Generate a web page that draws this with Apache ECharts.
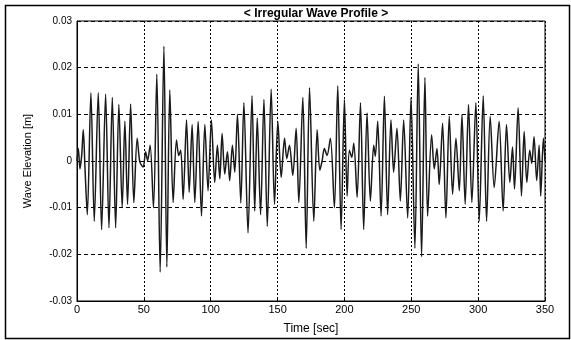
<!DOCTYPE html>
<html>
<head>
<meta charset="utf-8">
<script src="https://cdn.jsdelivr.net/npm/echarts@6/dist/echarts.min.js"></script>
<style>
html,body{margin:0;padding:0;background:#fff;}
#chart{width:571px;height:340px;}
</style>
</head>
<body>
<div id="chart"></div>
<script>
// Time [sec] of the readable wave extrema
const times = [
0,1.0,2.2,3.5,4.7,6.0,7.7,10.4,12.9,15.9,18.4,21.4,23.9,26.4,28.9,31.3,33.8,35.8,37.8,40.1,
42.5,45.0,47.0,49.5,51.3,52.8,54.7,57.2,59.7,62.2,65.0,67.2,69.4,71.9,74.4,76.1,77.6,79.4,81.9,83.9,
86.1,88.1,90.6,93.1,95.6,98.0,100.5,103.0,105.0,106.8,108.5,110.5,112.5,114.2,116.2,118.0,120.0,122.5,124.8,127.9,
130.9,132.9,134.8,137.3,139.8,142.3,145.2,147.7,150.2,152.7,155.2,156.9,158.9,161.4,163.9,165.9,168.9,171.4,173.9,177.1,
179.6,181.6,183.3,185.0,187.0,189.5,192.5,195.0,197.5,200.0,202.0,203.7,205.5,207.0,209.5,212.0,214.4,216.9,219.4,221.9,
223.1,224.9,227.4,229.9,232.3,234.8,236.8,239.3,241.8,244.3,247.3,249.8,252.7,255.2,257.7,260.2,262.2,265.2,267.2,269.2,
270.9,273.4,275.9,278.4,280.9,283.4,285.9,287.9,290.3,292.8,295.3,298.3,300.8,303.8,306.3,309.0,312.0,315.7,318.7,321.2,
323.7,325.7,327.2,329.9,332.4,334.4,336.4,338.6,340.1,341.8,343.8,345.6,346.8,348.8,350
];
// Wave elevation [m]
const elevation = [
0,0.0027,-0.0017,0.0012,0.0067,-0.0017,-0.0115,0.0146,-0.0129,0.0146,-0.0147,0.0143,-0.0143,0.0136,-0.0143,0.0121,-0.0100,0.0085,-0.0093,0.0122,
-0.0089,0.0049,-0.0002,-0.0013,0.0020,0.0001,0.0034,-0.0100,0.0186,-0.0238,0.0246,-0.0227,0.0152,-0.0089,0.0045,0.0012,0.0023,-0.0082,0.0088,-0.0067,
0.0078,-0.0089,0.0085,-0.0118,0.0078,-0.0064,0.0088,-0.0046,0.0034,-0.0038,0.0059,-0.0028,0.0020,-0.0042,0.0034,-0.0024,0.0100,-0.0090,0.0125,-0.0154,
0.0140,-0.0107,0.0092,-0.0115,0.0132,-0.0140,0.0154,-0.0093,0.0085,-0.0035,0.0049,0.0005,0.0034,-0.0031,0.0070,-0.0089,0.0136,-0.0187,0.0157,-0.0129,
0.0067,-0.0020,0.0000,0.0027,0.0012,0.0049,-0.0100,0.0161,-0.0147,0.0132,-0.0075,0.0023,0.0008,0.0038,-0.0078,0.0125,-0.0147,0.0103,-0.0086,0.0034,
0.0010,0.0085,-0.0118,0.0139,-0.0115,0.0088,-0.0024,0.0070,-0.0086,0.0088,-0.0122,0.0136,-0.0187,0.0208,-0.0205,0.0179,-0.0118,0.0056,-0.0017,0.0027,
-0.0050,0.0081,-0.0122,0.0096,-0.0071,0.0049,-0.0064,0.0099,-0.0093,0.0121,-0.0089,0.0125,-0.0129,0.0140,-0.0129,0.0096,-0.0057,0.0085,-0.0107,0.0078,
-0.0046,0.0030,-0.0060,0.0114,-0.0075,0.0063,-0.0046,0.0023,-0.0005,0.0052,-0.0042,0.0034,-0.0075,0.0049,0
];
const xTicks = [0,50,100,150,200,250,300,350];
const yTicks = [-0.03,-0.02,-0.01,0,0.01,0.02,0.03];

const seriesData = times.map((t,i)=>[t, elevation[i]]);
const font = '"Liberation Sans", Arial, sans-serif';

const chart = echarts.init(document.getElementById('chart'), null, {renderer:'canvas'});
chart.setOption({
  animation:false,
  backgroundColor:'#fff',
  title:{
    text:'< Irregular Wave Profile >',
    left:311, top:3, textAlign:'center',
    textStyle:{fontFamily:font, fontSize:12, fontWeight:'bold', color:'#000'}
  },
  graphic:[{
    type:'rect', left:3, top:3, shape:{x:0,y:0,width:564,height:333},
    style:{fill:'none', stroke:'#000', lineWidth:1.5}, silent:true
  }],
  grid:{left:77, right:26, top:21, bottom:37, show:true, borderColor:'#000', borderWidth:1},
  xAxis:{
    type:'value', min:xTicks[0], max:xTicks[xTicks.length-1], interval:50,
    name:'Time [sec]', nameLocation:'middle', nameGap:22,
    nameTextStyle:{fontFamily:font, fontSize:12, color:'#000'},
    axisLine:{show:true, onZero:false, lineStyle:{color:'#000', width:1}},
    axisTick:{show:true, inside:true, length:3, lineStyle:{color:'#000'}},
    axisLabel:{fontFamily:font, fontSize:11, color:'#000', margin:3},
    splitLine:{show:true, lineStyle:{color:'#000', type:[2,2], width:1}}
  },
  yAxis:{
    type:'value', min:yTicks[0], max:yTicks[yTicks.length-1], interval:0.01,
    name:'Wave Elevation [m]', nameLocation:'middle', nameGap:44, nameRotate:90,
    nameTextStyle:{fontFamily:font, fontSize:11, color:'#000'},
    axisLine:{show:true, onZero:false, lineStyle:{color:'#000', width:1}},
    axisTick:{show:true, inside:true, length:3, lineStyle:{color:'#000'}},
    axisLabel:{fontFamily:font, fontSize:10, color:'#000', margin:5,
      formatter:v=>{const r=Math.round(v*100)/100; return r===0?'0':r.toFixed(2);}},
    splitLine:{show:true, lineStyle:{color:'#000', type:[4,3], width:1}}
  },
  series:[{
    type:'line', data:seriesData, showSymbol:false, smooth:0.3,
    lineStyle:{color:'#1a1a1a', width:1.5}
  }]
});
</script>
</body>
</html>
